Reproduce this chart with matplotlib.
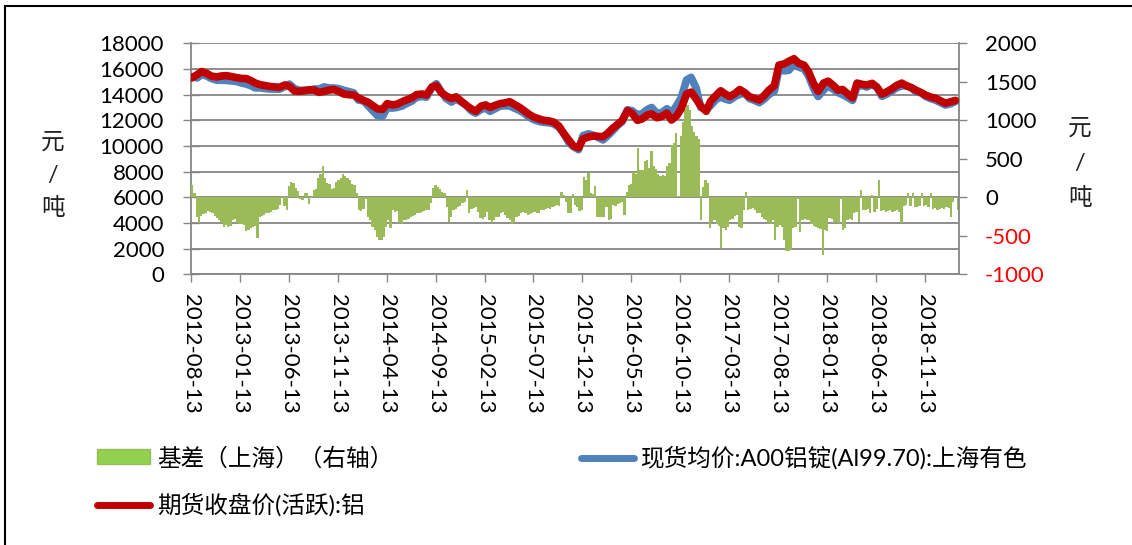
import matplotlib
matplotlib.use('Agg')
import matplotlib.pyplot as plt
from matplotlib.lines import Line2D
from matplotlib.patches import Patch
import pandas as pd

plt.rcParams['font.family'] = ['Lato', 'Noto Sans CJK SC']

# 期货收盘价(活跃):铝, 半月度 (元/吨)
futures = [
    15300, 15550, 15800, 15650, 15450, 15380, 15450, 15480, 15420, 15330,
    15270, 15250, 15100, 14900, 14780, 14700, 14640, 14600, 14570, 14750,
    14650, 14280, 14260, 14300, 14380, 14350, 14180, 14250, 14350, 14400,
    14250, 14050, 14000, 13970, 13750, 13550, 13400, 13150, 12900, 12850,
    13300, 13200, 13250, 13450, 13600, 13750, 14000, 14050, 13970, 14600,
    14700, 14150, 13900, 13700, 13830, 13500, 13200, 12900, 12700, 13100,
    13200, 13000, 13150, 13300, 13350, 13450, 13250, 13000, 12750, 12450,
    12250, 12100, 12000, 11950, 11850, 11550, 11000, 10450, 10000, 9850,
    10550, 10700, 10780, 10750, 10720, 11000, 11350, 11700, 12000, 12750,
    12550, 12000, 12100, 12400, 12500, 12200, 12300, 12550, 12020, 12350,
    12900, 14050, 14200, 13650, 13100, 12700, 13500, 13950, 14300, 14050,
    13850, 14100, 14400, 14150, 13850, 13700, 13580, 13950, 14350, 14700,
    16300, 16400, 16600, 16800, 16450, 16300, 15800, 14850, 14250, 14900,
    15050, 14700, 14350, 14400, 14100, 13750, 14900, 14800, 14750, 14880,
    14600, 14050, 14200, 14450, 14700, 14900, 14700, 14550, 14350, 14150,
    13950, 13800, 13720, 13500, 13330, 13450, 13550,
]

# 现货均价:A00铝锭(Al99.70):上海有色, 半月度 (元/吨)
spot = [
    15400, 15300, 15560, 15450, 15260, 15120, 15120, 15110, 15070, 15030,
    14920, 14820, 14700, 14520, 14530, 14470, 14440, 14430, 14420, 14640,
    14820, 14470, 14340, 14350, 14330, 14450, 14430, 14600, 14530, 14510,
    14470, 14340, 14250, 14140, 13580, 13500, 13120, 12750, 12370, 12320,
    12970, 12950, 13000, 13120, 13310, 13500, 13780, 13860, 13800, 14540,
    14850, 14210, 13700, 13420, 13670, 13420, 13220, 12750, 12560, 12850,
    12940, 12700, 12880, 13100, 13130, 13120, 12950, 12760, 12550, 12230,
    12050, 11900, 11840, 11800, 11720, 11450, 11030, 10250, 9950, 9710,
    10810, 10950, 10840, 10650, 10470, 10800, 11150, 11610, 11900, 12820,
    12750, 12450, 12500, 12830, 13000, 12550, 12590, 12900, 12570, 13150,
    13750, 15150, 15350, 14500, 13000, 12850, 13150, 13640, 13800, 13650,
    13560, 13860, 14020, 14100, 13700, 13540, 13370, 13660, 14010, 14280,
    15930, 15850, 15900, 16400, 16150, 16010, 15470, 14470, 13850, 14350,
    14700, 14400, 14150, 14000, 13810, 13550, 14650, 14700, 14590, 14780,
    14600, 13870, 14020, 14270, 14520, 14680, 14680, 14510, 14230, 14120,
    13850, 13680, 13570, 13360, 13190, 13300, 13470,
]

# 基差（上海）, 周度 (元/吨, 右轴)
basis = [
    160, 50, -250, -330,
    -240, -220, -200, -180, -190, -200, -240, -270, -290,
    -330, -390, -360, -380, -370, -300, -280, -330, -350,
    -350, -360, -440, -420, -400, -380, -370, -530, -250,
    -240, -230, -200, -200, -190, -170, -160, -150,
    -100, 20, -110, -160, 150, 200, 190, 120, 80,
    -20, -30, 60, 50, -90, -10, 90, 110, 250,
    300, 400, 250, 180, 170, 110, 120, 200, 230,
    250, 300, 280, 250, 230, 170, 160, 50, -170,
    -180, -150, -20, -250, -300, -380, -420, -520, -560,
    -550, -520, -380, -300, -400, -170, -190, -180, -340,
    -350, -300, -290, -280, -250, -240, -230, -210, -200,
    -190, -180, -170, -160, -70, 120, 160, 140, 110,
    70, 60, -130, -320, -250, -170, -150, -120,
    -110, -70, -60, 100, -210, -150, -140, -130, -190,
    -270, -280, -250, -190, -300, -330, -290, -260, -250,
    -200, -190, -230, -270, -300, -350, -330, -260, -240,
    -200, -190, -210, -230, -220, -200, -190, -200, -210,
    -170, -160, -150, -140, -150, -130, -110, -100, -110,
    70, 30, -60, -200, -210, 40, -100, -120, -180,
    -170, 260, 220, 320, 60, 40, 150, -250, -260,
    -260, -250, -120, -290, -280, -100, -110, -90, -70,
    -60, -230, 70, 160, 170, 330, 300, 640, 350,
    350, 470, 480, 380, 600, 400, 370, 300, 280,
    290, 280, 400, 450, 680, 700, 830, 20,
    790, 980, 1150, 1200, 1130, 920, 850, 790, 760,
    -290, 140, 220, 180, -400, -320, -300, -350, -370,
    -660, -400, -420, -380, -300, -280, -240, -230, -380,
    -400, -170, 70, -160, -150, -140, -160, -200, -210,
    -260, -280, -300, -340, -350, -290, -550, -380, -360,
    -380, -550, -700, -700, -690, -400, -390, -20, -450,
    -300, -280, -290, -300, -350, -370, -380, -400, -410,
    -750, -430, -440, -270, -280, -330, -320, -330, -20,
    -420, -400, -300, -280, -290, -200, -190, -320,
    100, -160, -170, -150, -200, 30, -190, -150, 225,
    -180, -170, -190, -180, -170, -190, -180, -170, -190,
    -340, -110, -100, 60, -110, 50, -120, -130, -110,
    50, -110, -100, -120, 60, -150, -140, -160, -150,
    -140, -150, -130, -140, -250, -60, 10, -160,
]

price_dates = pd.date_range('2012-08-15', '2019-02-15', freq='SMS')
basis_dates = pd.date_range('2012-08-17', periods=len(basis), freq='W-FRI')

tick_labels = ['2012-08-13', '2013-01-13', '2013-06-13', '2013-11-13',
               '2014-04-13', '2014-09-13', '2015-02-13', '2015-07-13',
               '2015-12-13', '2016-05-13', '2016-10-13', '2017-03-13',
               '2017-08-13', '2018-01-13', '2018-06-13', '2018-11-13']
left_ticks = [0, 2000, 4000, 6000, 8000, 10000, 12000, 14000, 16000, 18000]
right_ticks = [-1000, -500, 0, 500, 1000, 1500, 2000]

W, H = 1132, 545
gray = '#868686'

fig = plt.figure(figsize=(W / 100, H / 100), dpi=100)
ax = fig.add_axes([191 / W, 1 - 274.3 / H, 768 / W, 231 / H])
ax2 = ax.twinx()
ax3 = ax.twinx()

x0, x1 = pd.Timestamp('2012-08-13'), pd.Timestamp('2019-02-26')

# 网格与左轴
ax.set_xlim(x0, x1)
ax.set_ylim(0, 18000)
ax.set_yticks(left_ticks)
ax.set_yticklabels([str(v) for v in left_ticks])
ax.grid(axis='y', color=gray, linewidth=1.3)
ax.set_axisbelow(True)
ax.set_xticks(pd.to_datetime(tick_labels))
ax.set_xticklabels(tick_labels, rotation=270, ha='center', va='top')
ax.tick_params(axis='y', direction='inout', length=12, width=1, color=gray,
               pad=13.4, labelsize=16)
ax.tick_params(axis='x', direction='out', length=6, width=1, color=gray,
               pad=8, labelsize=16)
for s in ['top', 'right']:
    ax.spines[s].set_visible(False)
for s in ['left', 'bottom']:
    ax.spines[s].set_color(gray)
    ax.spines[s].set_linewidth(1.3)

# 基差柱
ax2.bar(basis_dates, basis, width=7, color='#9BBB59', linewidth=0)
ax2.set_ylim(-1000, 2000)
ax2.set_yticks(right_ticks)
ax2.set_yticklabels([str(v) for v in right_ticks])
for lab, v in zip(ax2.get_yticklabels(), right_ticks):
    lab.set_color('#FF0000' if v < 0 else 'black')
ax2.tick_params(axis='y', direction='out', length=6, width=1, color=gray,
                pad=12.7, labelsize=16)
for s in ['top', 'left', 'bottom']:
    ax2.spines[s].set_visible(False)
ax2.spines['right'].set_color(gray)
ax2.spines['right'].set_linewidth(1.3)

# 价格线
ax3.plot(price_dates, spot, color='#4F81BD', linewidth=5.5, solid_capstyle='round')
ax3.plot(price_dates, futures, color='#C00000', linewidth=5.5, solid_capstyle='round')
ax3.set_ylim(0, 18000)
ax3.set_yticks([])
for s in ax3.spines.values():
    s.set_visible(False)
ax.set_xlim(x0, x1)

# 轴标题
for ch, y in zip(['元', '/', '吨'], [142, 175, 208]):
    fig.text(53 / W, 1 - y / H, ch, ha='center', va='center', fontsize=17, color='#222222')
for ch, y in zip(['元', '/', '吨'], [128, 163, 198]):
    fig.text(1080 / W, 1 - y / H, ch, ha='center', va='center', fontsize=17, color='#222222')

# 图例
fs = 17
common = dict(loc='center left', frameon=False, fontsize=fs, borderpad=0,
              borderaxespad=0, handlelength=53 / 23.6, handletextpad=0.3)
fig.legend([Patch(facecolor='#92D050', edgecolor='#9BBB59')], ['基差（上海）（右轴）'],
           bbox_to_anchor=(97 / W, 1 - 458 / H), handleheight=0.6, **common)
fig.legend([Line2D([], [], color='#4F81BD', linewidth=5, solid_capstyle='round')],
           ['现货均价:A00铝锭(Al99.70):上海有色'],
           bbox_to_anchor=(581 / W, 1 - 458 / H), **common)
fig.legend([Line2D([], [], color='#C00000', linewidth=5, solid_capstyle='round')],
           ['期货收盘价(活跃):铝'],
           bbox_to_anchor=(97 / W, 1 - 505 / H), **common)

# 外框
fig.add_artist(Line2D([5 / W, 1], [1 - 6 / H, 1 - 6 / H], transform=fig.transFigure,
                      color='black', linewidth=1.5))
fig.add_artist(Line2D([5 / W, 5 / W], [0, 1 - 6 / H], transform=fig.transFigure,
                      color='black', linewidth=1.5))

fig.savefig('out.png', dpi=100)
